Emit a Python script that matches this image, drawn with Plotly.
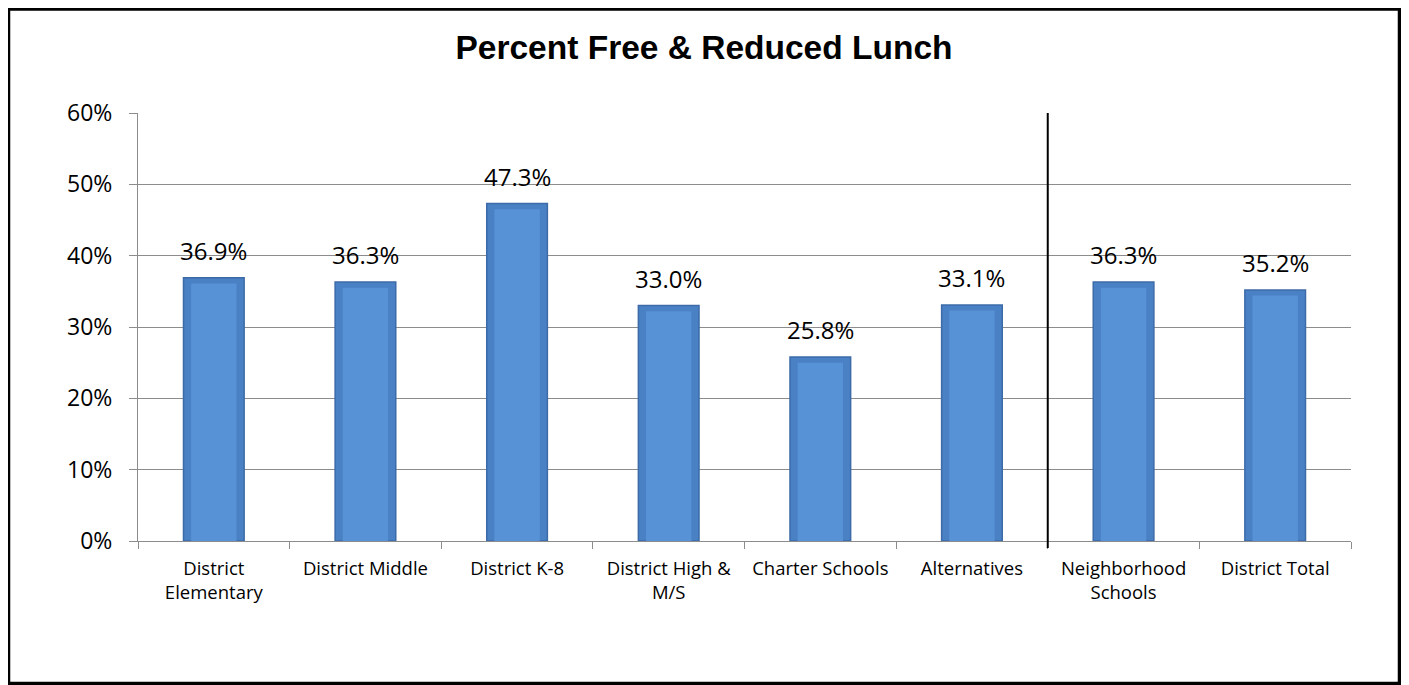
import plotly.graph_objects as go

categories = ["District<br>Elementary", "District Middle", "District K-8", "District High &<br>M/S",
              "Charter Schools", "Alternatives", "Neighborhood<br>Schools", "District Total"]
values = [0.369, 0.363, 0.473, 0.330, 0.258, 0.331, 0.363, 0.352]
labels = ["36.9%", "36.3%", "47.3%", "33.0%", "25.8%", "33.1%", "36.3%", "35.2%"]

# page body has an 8px margin; work in reference page pixels and shift
OFF = 8
W, H = 1409 - OFF, 685 - OFF
L, R, T, B = 138 - OFF, 1351 - OFF, 113 - OFF, 541 - OFF

def px(xpage):
    return (xpage - OFF - L) / (R - L)

def py(ypage):
    return (B - (ypage - OFF)) / (B - T)

fig = go.Figure()
fig.add_trace(go.Bar(
    x=categories, y=values, width=0.4,
    marker=dict(color="#4A80C4", line=dict(color="#3C6BA8", width=1.5)),
    hoverinfo="skip",
))
# lighter core to mimic the bevelled look
fig.add_trace(go.Bar(
    x=categories, y=[v - 0.008 for v in values], width=0.30,
    marker=dict(color="#5791D6", line=dict(width=0)),
    hoverinfo="skip",
))

# data labels above bars
for c, v, t in zip(categories, values, labels):
    fig.add_annotation(x=c, y=v, text=t, showarrow=False, yanchor="bottom",
                       yshift=9, font=dict(size=24, color="#000000", family="Open Sans"))

fig.update_layout(
    width=W, height=H, barmode="overlay", showlegend=False,
    plot_bgcolor="white", paper_bgcolor="white",
    margin=dict(l=L, r=W - R, t=T, b=H - B, pad=0),
    title=dict(text="<b>Percent Free & Reduced Lunch</b>", x=px(704), xref="paper",
               xanchor="center", y=1 - (47 - OFF) / H, yanchor="middle",
               font=dict(family="Liberation Sans", size=33.5, color="#000000")),
    font=dict(family="Open Sans", color="#000000"),
)
fig.update_yaxes(range=[0, 0.6], dtick=0.1, tickformat=".0%",
                 showgrid=True, gridcolor="#8C8C8C", gridwidth=1,
                 showline=True, linecolor="#8C8C8C", linewidth=1,
                 ticks="outside", ticklen=8, tickcolor="#8C8C8C",
                 ticklabelstandoff=12,
                 tickfont=dict(size=23, family="Open Sans"), zeroline=False)
fig.update_xaxes(showline=True, linecolor="#8C8C8C", linewidth=1,
                 ticks="outside", tickson="boundaries", ticklen=7, tickcolor="#8C8C8C",
                 ticklabelstandoff=11,
                 tickfont=dict(size=18.5, family="Open Sans"), showgrid=False)

# vertical separator line between Alternatives and Neighborhood Schools
fig.add_shape(type="line", xref="x", yref="paper", x0=5.5, x1=5.5, y0=py(548), y1=1,
              line=dict(color="#000000", width=2))
# outer frame
fig.add_shape(type="rect", xref="paper", yref="paper",
              x0=px(8.5), x1=px(1399.5), y0=py(683.5), y1=py(9),
              line=dict(color="#000000", width=3.5), layer="above")

fig.write_html("out.html")
